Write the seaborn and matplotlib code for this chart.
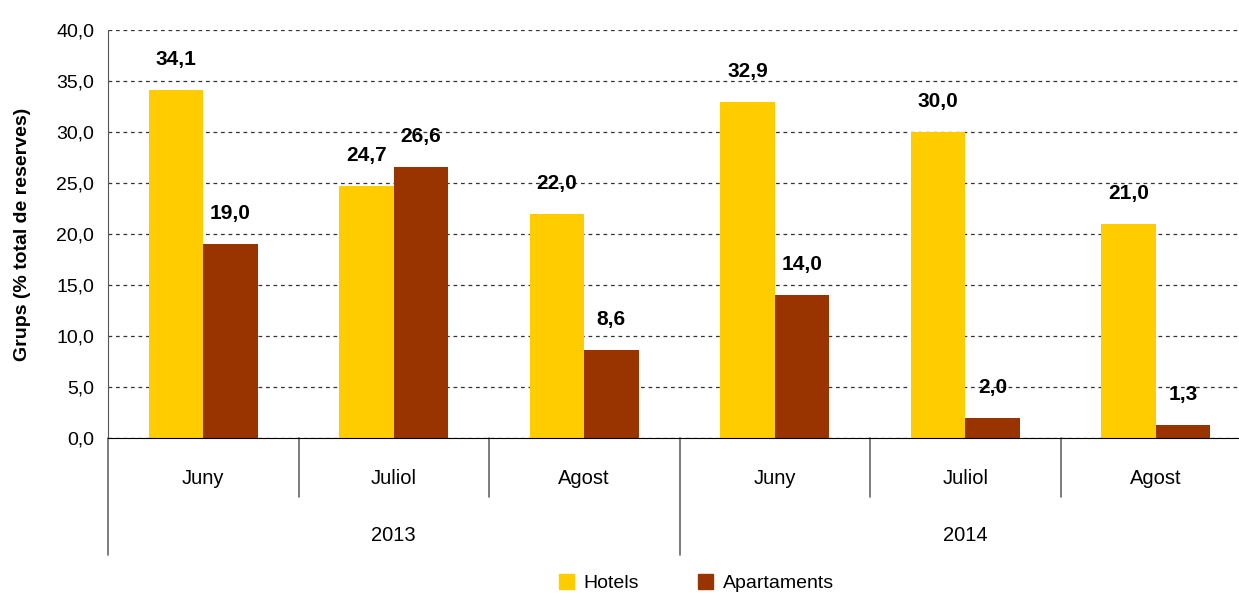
import seaborn as sns
import matplotlib.pyplot as plt
import matplotlib.transforms as mtransforms
from matplotlib.ticker import FuncFormatter, MultipleLocator
from matplotlib import font_manager
import pandas as pd

months = ["Juny", "Juliol", "Agost", "Juny", "Juliol", "Agost"]
years = ["2013", "2014"]
hotels = [34.1, 24.7, 22.0, 32.9, 30.0, 21.0]
apartaments = [19.0, 26.6, 8.6, 14.0, 2.0, 1.3]
series = ["Hotels", "Apartaments"]
colors = ["#FFCC00", "#993300"]

periods = [f"{m} {years[i // 3]}" for i, m in enumerate(months)]
df = pd.DataFrame({
    "Periode": periods * 2,
    "Serie": [series[0]] * 6 + [series[1]] * 6,
    "Valor": hotels + apartaments,
})

sns.set_style("white")
names = {f.name for f in font_manager.fontManager.ttflist}
fam = ["Liberation Sans Narrow"] if "Liberation Sans Narrow" in names else []
plt.rcParams["font.family"] = fam + ["Liberation Sans", "DejaVu Sans"]
plt.rcParams["text.color"] = "black"
plt.rcParams["axes.labelcolor"] = "black"
plt.rcParams["ytick.color"] = "black"

fig = plt.figure(figsize=(12.39, 5.94), dpi=100)
ax = fig.add_axes([108 / 1239, 156 / 594, 1 - 108 / 1239, 408 / 594])

sns.barplot(data=df, x="Periode", y="Valor", hue="Serie", order=periods,
            palette=colors, width=0.57, gap=0, saturation=1, linewidth=0,
            ax=ax, legend=False)

ax.set_ylim(0, 40)
ax.set_xlim(-0.5, 5.5 - 12 / 190.5)
ax.yaxis.set_major_locator(MultipleLocator(5))
ax.yaxis.set_major_formatter(FuncFormatter(lambda v, p: f"{v:.1f}".replace(".", ",")))
ax.grid(axis="y", linestyle=(0, (3, 3)), color="#333333", linewidth=0.9)
ax.set_axisbelow(True)
for s in ["top", "right"]:
    ax.spines[s].set_visible(False)
ax.spines["left"].set_color("#555555")
ax.spines["bottom"].set_color("black")
ax.tick_params(axis="y", direction="out", length=6, color="#555555", labelsize=14, pad=4)
ax.tick_params(axis="x", length=0, labelbottom=False)
ax.set_xlabel("")
ax.set_ylabel("Grups (% total de reserves)", fontsize=14, fontweight="bold", labelpad=18)

# value labels
for cont in ax.containers:
    for bar in cont:
        h = bar.get_height()
        ax.annotate(f"{h:.1f}".replace(".", ","), (bar.get_x() + bar.get_width() / 2, h),
                    xytext=(0, 21), textcoords="offset pixels", ha="center", va="bottom",
                    fontsize=15, fontweight="bold")

# multi-level category axis
trans = mtransforms.blended_transform_factory(ax.transData, ax.transAxes)
for i, m in enumerate(months):
    ax.text(i, -0.1, m, transform=trans, ha="center", va="center", fontsize=14.5)
for j, y in enumerate(years):
    ax.text(3 * j + 1, -0.238, y, transform=trans, ha="center", va="center", fontsize=14.5)
for xb in [0.5, 1.5, 3.5, 4.5]:
    ax.plot([xb, xb], [0, -0.145], transform=trans, color="#666666", lw=1.2, clip_on=False)
for xb in [-0.5, 2.5, 5.5]:
    ax.plot([xb, xb], [0, -0.287], transform=trans, color="#666666", lw=1.2, clip_on=False)

handles = [plt.Rectangle((0, 0), 1, 1, color=c) for c in colors]
fig.legend(handles, series, loc="center", bbox_to_anchor=(0.562, 0.018), ncol=2,
           frameon=False, fontsize=14, handlelength=0.8, handleheight=0.8,
           handletextpad=0.5, columnspacing=3.0)

fig.savefig("out.png", dpi=100)
